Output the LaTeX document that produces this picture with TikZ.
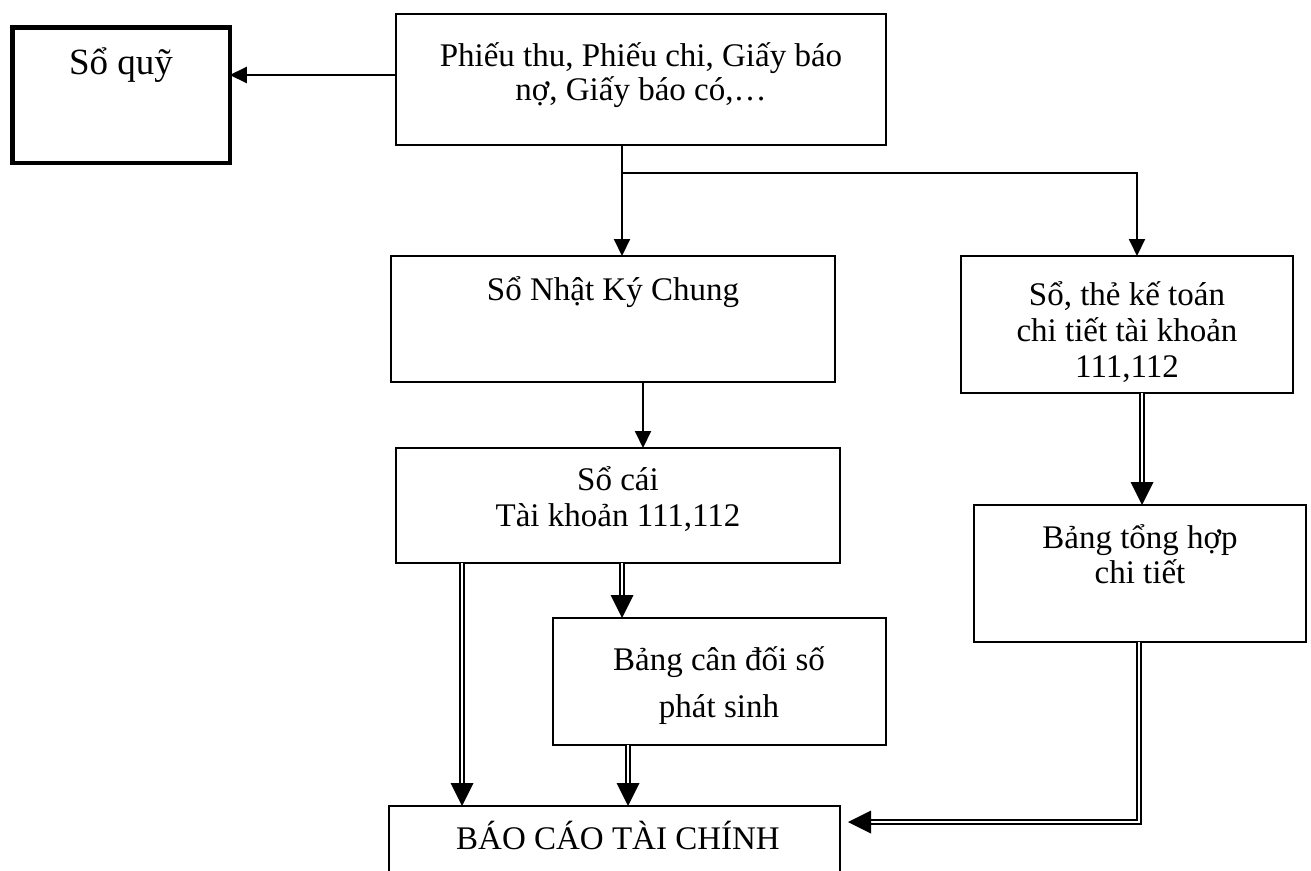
\documentclass[tikz,border=0pt]{standalone}
\usepackage{fontspec}
\setmainfont{Liberation Serif}
\usetikzlibrary{arrows.meta,decorations.markings}
% centred multi-line box text; #1 = line spacing, #2 = lines
\newcommand\boxlines[2]{\parbox[t]{520pt}{\centering\fontsize{33}{#1}\selectfont #2}}
\begin{document}
\begin{tikzpicture}[x=1pt,y=-1pt,
  boxnode/.style={draw, line width=2pt, inner sep=0pt, outer sep=0pt},
  thickbox/.style={boxnode, line width=4.5pt},
  txt/.style={anchor=base, inner sep=0pt, font=\fontsize{33}{36}\selectfont},
  arr/.style={draw, line width=2pt, -{Triangle[length=17pt,width=16pt]}},
  dblarr/.style={draw, double, double distance=2.4pt, line width=2pt, shorten >=12pt,
    postaction={decorate, decoration={markings,
      mark=at position 1 with {\fill (0pt,0pt) -- (-23pt,11.5pt) -- (-23pt,-11.5pt) -- cycle;}}}}
]
\useasboundingbox (0,0) rectangle (1311,870);
\fill[white] (0,0) rectangle (1311,870);
\clip (0,0) rectangle (1311,870);

% boxes
\node[thickbox, minimum width=217.5pt, minimum height=135.5pt] (soquy) at (121,95) {};
\node[boxnode, minimum width=490pt, minimum height=131pt] (src) at (641,79.5) {};
\node[boxnode, minimum width=444pt, minimum height=126pt] (nkc) at (613,319) {};
\node[boxnode, minimum width=332pt, minimum height=137pt] (rbox) at (1127,324.5) {};
\node[boxnode, minimum width=444pt, minimum height=115pt] (socai) at (618,505.5) {};
\node[boxnode, minimum width=333pt, minimum height=127pt] (bcd) at (719.5,681.5) {};
\node[boxnode, minimum width=332pt, minimum height=137pt] (bth) at (1140,573.5) {};
\node[boxnode, minimum width=451pt, minimum height=100pt] (bctc) at (614.5,856) {};

% texts
\node[txt, font=\fontsize{37}{40}\selectfont] (soquyT) at (121,74) {Sổ quỹ};
\node[txt] (srcT) at (641,66) {\boxlines{34}{Phiếu thu, Phiếu chi, Giấy báo\\nợ, Giấy báo có,…}};
\node[txt] (nkcT) at (613,300) {Sổ Nhật Ký Chung};
\node[txt] (rboxT) at (1127,305) {\boxlines{36}{Sổ, thẻ kế toán\\chi tiết tài khoản\\111,112}};
\node[txt] (socaiT) at (618,490) {\boxlines{36}{Sổ cái\\Tài khoản 111,112}};
\node[txt] (bcdT) at (719,670) {\boxlines{47}{Bảng cân đối số\\phát sinh}};
\node[txt] (bthT) at (1140,548) {\boxlines{35}{Bảng tổng hợp\\chi tiết}};
\node[txt] (bctcT) at (618,849) {BÁO CÁO TÀI CHÍNH};

% columns and rows of the connectors
\coordinate (colA) at (622,0);
\coordinate (colB) at (1137,0);
\coordinate (colC) at (643,0);
\coordinate (colD) at (462,0);
\coordinate (colE) at (628,0);
\coordinate (colF) at (1142,0);
\coordinate (colG) at (1139,0);
\coordinate (rowA) at (0,75);
\coordinate (rowB) at (0,173);
\coordinate (rowC) at (0,822);
\coordinate (bctcin) at (848,822);

% connectors
\draw[arr] (src.west |- rowA) -- (soquy.east |- rowA);
\draw[arr] (src.south -| colA) -- (nkc.north -| colA);
\draw[arr] (rowB -| colA) -- (rowB -| colB) -- (rbox.north -| colB);
\draw[arr] (nkc.south -| colC) -- (socai.north -| colC);
\draw[dblarr] (socai.south -| colA) -- (bcd.north -| colA);
\draw[dblarr] (socai.south -| colD) -- (bctc.north -| colD);
\draw[dblarr] (bcd.south -| colE) -- (bctc.north -| colE);
\draw[dblarr] (rbox.south -| colF) -- (bth.north -| colF);
\draw[dblarr] (bth.south -| colG) -- (rowC -| colG) -- (bctcin);
\end{tikzpicture}
\end{document}
